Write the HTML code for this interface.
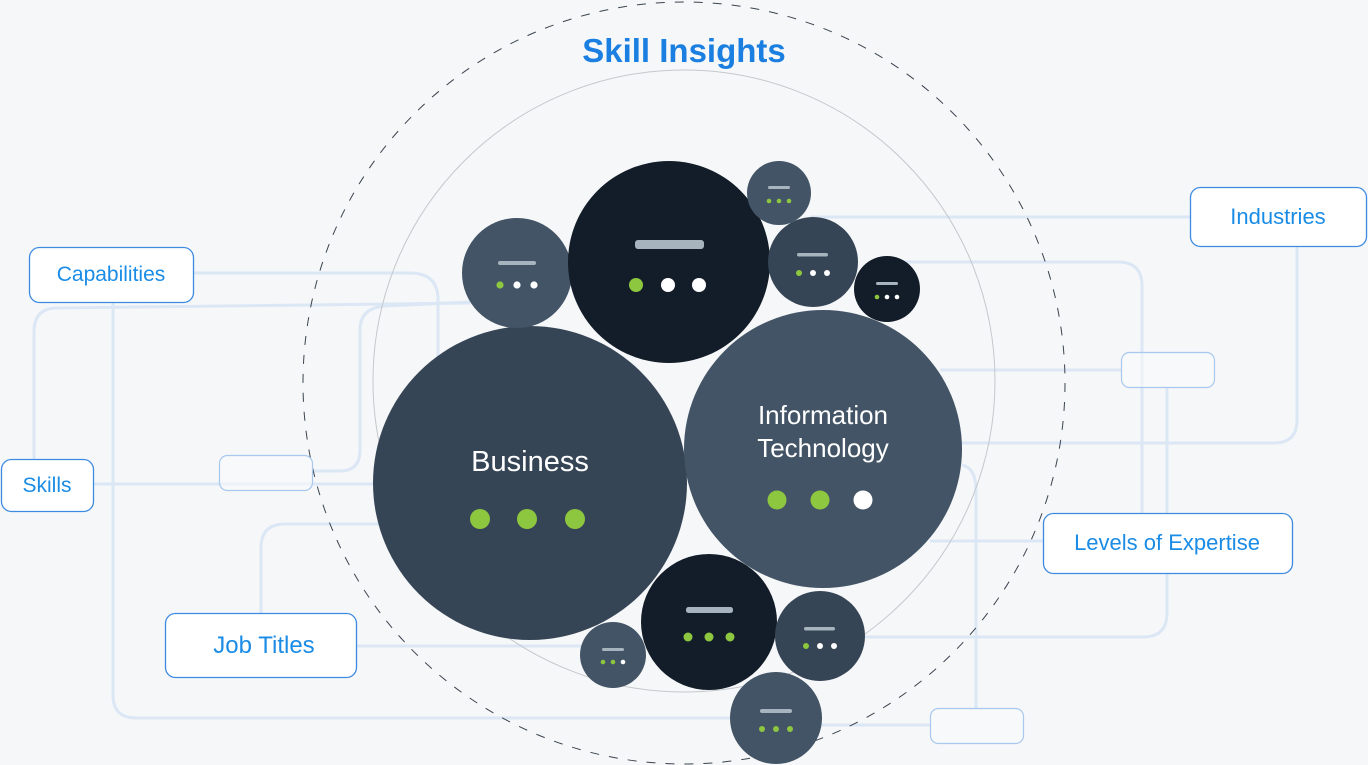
<!DOCTYPE html>
<html><head><meta charset="utf-8"><style>
html,body{margin:0;padding:0;background:#f6f7f8;}
svg{display:block;}
text{font-family:"Liberation Sans",sans-serif;}
</style></head><body>
<svg width="1368" height="765" viewBox="0 0 1368 765" xmlns="http://www.w3.org/2000/svg">
<rect width="1368" height="765" fill="#f6f7f8"/>
<g fill="none" stroke="#dce7f6" stroke-width="3">
<path d="M193 273 H410 Q438 273 438 300 V360"/>
<path d="M470 303 L57 308 Q34 308 34 332 V459"/>
<path d="M113 302 V695 Q113 718 136 718 H740"/>
<path d="M93 484 H380"/>
<path d="M312 471 H340 Q360 471 360 450 V330 Q360 308 385 306 L470 302"/>
<path d="M261 613 V548 Q261 524 285 524 H380"/>
<path d="M356 646 H590"/>
<path d="M1190 217 H810"/>
<path d="M1297 246 V420 Q1297 443 1274 443 H960"/>
<path d="M900 262 H1118 Q1142 262 1142 286 V513"/>
<path d="M1121 370 H940"/>
<path d="M1167 387 V613 Q1167 637 1143 637 H865"/>
<path d="M1043 541 H930"/>
<path d="M962 465 Q976 468 976 490 V708"/>
<path d="M930 725 H820"/>
</g>
<circle cx="684" cy="383" r="381" fill="none" stroke="#3a4450" stroke-width="1" stroke-dasharray="9 10"/>
<circle cx="684" cy="381" r="311" fill="none" stroke="#c4c8cc" stroke-width="1"/>
<text x="684" y="62" text-anchor="middle" font-size="33" font-weight="bold" fill="#1a7fe0">Skill Insights</text>

<circle cx="530" cy="483" r="157" fill="#364556"/>
<circle cx="823" cy="449" r="139" fill="#435466"/>
<text x="530" y="471" text-anchor="middle" font-size="29" fill="#fff">Business</text>
<circle cx="480" cy="519" r="10" fill="#8dc63f"/><circle cx="527" cy="519" r="10" fill="#8dc63f"/><circle cx="575" cy="519" r="10" fill="#8dc63f"/>
<text x="823" y="424" text-anchor="middle" font-size="26" fill="#fff">Information</text>
<text x="823" y="457" text-anchor="middle" font-size="26" fill="#fff">Technology</text>
<circle cx="777" cy="500" r="9.5" fill="#8dc63f"/><circle cx="820" cy="500" r="9.5" fill="#8dc63f"/><circle cx="863" cy="500" r="9.5" fill="#fff"/>

<g>
<circle cx="517" cy="273" r="55" fill="#435466"/>
<rect x="498" y="261" width="38" height="4" rx="2" fill="#a7b4bd"/>
<circle cx="500" cy="285" r="3.6" fill="#8dc63f"/><circle cx="517" cy="285" r="3.6" fill="#fff"/><circle cx="534" cy="285" r="3.6" fill="#fff"/>

<circle cx="669" cy="262" r="101" fill="#131d29"/>
<rect x="635" y="240" width="69" height="9" rx="3" fill="#a7b4bd"/>
<circle cx="636" cy="285" r="7" fill="#8dc63f"/><circle cx="668" cy="285" r="7" fill="#fff"/><circle cx="699" cy="285" r="7" fill="#fff"/>

<circle cx="779" cy="193" r="32" fill="#435466"/>
<rect x="768" y="186" width="22" height="3" rx="1.5" fill="#a7b4bd"/>
<circle cx="769" cy="201" r="2.3" fill="#8dc63f"/><circle cx="779" cy="201" r="2.3" fill="#8dc63f"/><circle cx="789" cy="201" r="2.3" fill="#8dc63f"/>

<circle cx="813" cy="262" r="45" fill="#364556"/>
<rect x="797" y="253" width="31" height="3.5" rx="1.7" fill="#a7b4bd"/>
<circle cx="799" cy="273" r="3" fill="#8dc63f"/><circle cx="813" cy="273" r="3" fill="#fff"/><circle cx="827" cy="273" r="3" fill="#fff"/>

<circle cx="887" cy="289" r="33" fill="#131d29"/>
<rect x="876" y="282" width="22" height="3" rx="1.5" fill="#a7b4bd"/>
<circle cx="877" cy="297" r="2.3" fill="#8dc63f"/><circle cx="887" cy="297" r="2.3" fill="#fff"/><circle cx="897" cy="297" r="2.3" fill="#fff"/>

<circle cx="709" cy="622" r="68" fill="#131d29"/>
<rect x="686" y="607" width="47" height="6" rx="2.5" fill="#a7b4bd"/>
<circle cx="688" cy="637" r="4.5" fill="#8dc63f"/><circle cx="709" cy="637" r="4.5" fill="#8dc63f"/><circle cx="730" cy="637" r="4.5" fill="#8dc63f"/>

<circle cx="613" cy="655" r="33" fill="#435466"/>
<rect x="602" y="648" width="22" height="3" rx="1.5" fill="#a7b4bd"/>
<circle cx="603" cy="662" r="2.3" fill="#8dc63f"/><circle cx="613" cy="662" r="2.3" fill="#8dc63f"/><circle cx="623" cy="662" r="2.3" fill="#fff"/>

<circle cx="820" cy="636" r="45" fill="#364556"/>
<rect x="804" y="627" width="31" height="3.5" rx="1.7" fill="#a7b4bd"/>
<circle cx="806" cy="646" r="3" fill="#8dc63f"/><circle cx="820" cy="646" r="3" fill="#fff"/><circle cx="834" cy="646" r="3" fill="#fff"/>

<circle cx="776" cy="718" r="46" fill="#435466"/>
<rect x="760" y="709" width="32" height="4" rx="2" fill="#a7b4bd"/>
<circle cx="762" cy="729" r="3" fill="#8dc63f"/><circle cx="776" cy="729" r="3" fill="#8dc63f"/><circle cx="790" cy="729" r="3" fill="#8dc63f"/>
</g>

<g stroke="#a9c8ee" stroke-width="1.2" fill="#f8fafc" fill-opacity="0.6">
<rect x="219.5" y="455.5" width="93" height="35" rx="8"/>
<rect x="1121.5" y="352.5" width="93" height="35" rx="8"/>
<rect x="930.5" y="708.5" width="93" height="35" rx="8"/>
</g>
<g stroke="#3d8be0" stroke-width="1.3" fill="#fff">
<rect x="29.5" y="247.5" width="164" height="55" rx="10"/>
<rect x="1.5" y="459.5" width="92" height="52" rx="10"/>
<rect x="165.5" y="613.5" width="191" height="64" rx="10"/>
<rect x="1190.5" y="187.5" width="176" height="59" rx="10"/>
<rect x="1043.5" y="513.5" width="249" height="60" rx="10"/>
</g>
<g fill="#1a8ce6" text-anchor="middle">
<text x="111" y="281" font-size="21">Capabilities</text>
<text x="47" y="492" font-size="21">Skills</text>
<text x="264" y="653" font-size="24">Job Titles</text>
<text x="1278" y="224" font-size="22">Industries</text>
<text x="1167" y="550" font-size="22">Levels of Expertise</text>
</g>
</svg>
</body></html>
